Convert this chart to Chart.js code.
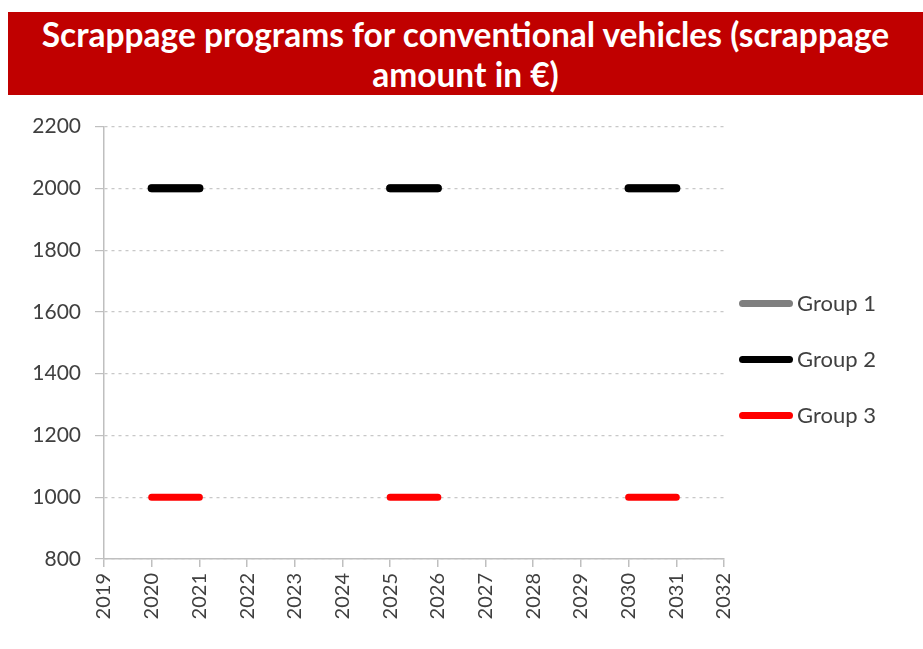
<!DOCTYPE html>
<html>
<head>
<meta charset="utf-8">
<script src="https://cdn.jsdelivr.net/npm/chart.js@4.4.0/dist/chart.umd.min.js"></script>
<style>
  body { margin: 0; background: #fff; width: 923px; height: 649px; overflow: hidden; position: relative; }
  .banner {
    position: absolute; left: 8px; top: 12px; width: 915px; height: 83px;
    background: #c00000; color: #fff; text-align: center;
    font-family: Lato, sans-serif; font-weight: bold; font-size: 33.5px; line-height: 40px;
    padding-top: 2px; box-sizing: border-box; white-space: nowrap;
  }
  .chartbox { position: absolute; left: 0; top: 100px; width: 754px; height: 549px; }
  .legend { position: absolute; left: 739px; top: 0; font-family: Lato, sans-serif; font-size: 22px; color: #404040; }
  .legend div { position: absolute; white-space: nowrap; }
  .legend span.sw { position: absolute; left: 0; width: 54px; height: 7px; border-radius: 3.5px; }
  .legend span.tx { position: absolute; left: 58px; top: -14px; }
</style>
</head>
<body>
<div class="banner">Scrappage programs for conventional vehicles (scrappage<br>amount in €)</div>
<div class="chartbox"><canvas id="scrapChart"></canvas></div>
<div class="legend" id="legend"></div>
<script>
const seriesNames = ['Group 1', 'Group 2', 'Group 3'];
const seriesColors = ['#7f7f7f', '#000000', '#ff0000'];
const programStarts = [2020, 2025, 2030];   // each program lasts one year
const group1 = [2000, 2000, 2000];
const group2 = [2000, 2000, 2000];
const group3 = [1000, 1000, 1000];
const yTicks = [800, 1000, 1200, 1400, 1600, 1800, 2000, 2200];
const xTicks = [2019, 2020, 2021, 2022, 2023, 2024, 2025, 2026, 2027, 2028, 2029, 2030, 2031, 2032];

function segments(values) {
    const pts = [];
    programStarts.forEach(function(s, i) {
        pts.push({ x: s, y: values[i] }, { x: s + 1, y: values[i] }, { x: s + 1, y: null });
    });
    return pts;
}

const allSeries = [group1, group2, group3];
const widths = [8, 8, 7];

// legend
const legendEl = document.getElementById('legend');
const legendY = [303, 359, 415];
seriesNames.forEach(function(name, i) {
    const d = document.createElement('div');
    d.style.top = legendY[i] + 'px';
    d.innerHTML = '<span class="sw" style="background:' + seriesColors[i] + ';top:-3px"></span><span class="tx">' + name + '</span>';
    legendEl.appendChild(d);
});

document.addEventListener('DOMContentLoaded', function() {
    const ctx = document.getElementById('scrapChart');
    new Chart(ctx.getContext('2d'), {
        type: 'line',
        data: {
            datasets: allSeries.map(function(vals, i) {
                return {
                    label: seriesNames[i],
                    data: segments(vals),
                    borderColor: seriesColors[i],
                    borderWidth: widths[i],
                    borderCapStyle: 'round',
                    pointRadius: 0,
                    spanGaps: false,
                    fill: false,
                    order: seriesNames.length - i
                };
            })
        },
        options: {
            responsive: true,
            maintainAspectRatio: false,
            animation: false,
            layout: { padding: { left: 0, top: 25, right: 6, bottom: 0 } },
            plugins: { legend: { display: false }, tooltip: { enabled: false } },
            scales: {
                x: {
                    type: 'linear',
                    min: xTicks[0],
                    max: xTicks[xTicks.length - 1],
                    afterBuildTicks: function(s) { s.ticks = xTicks.map(function(v) { return { value: v }; }); },
                    afterFit: function(s) { s.height = 90; },
                    ticks: {
                        minRotation: 90, maxRotation: 90, padding: 6,
                        color: '#404040',
                        font: { family: 'Lato', size: 20 },
                        callback: function(v) { return String(v); }
                    },
                    grid: { drawOnChartArea: false, drawTicks: true, tickLength: 8, color: '#bfbfbf', lineWidth: 1.5 },
                    border: { color: '#bfbfbf', width: 1.5 }
                },
                y: {
                    min: yTicks[0],
                    max: yTicks[yTicks.length - 1],
                    afterBuildTicks: function(s) { s.ticks = yTicks.map(function(v) { return { value: v }; }); },
                    afterFit: function(s) { s.width = 104; },
                    ticks: {
                        padding: 14,
                        color: '#404040',
                        font: { family: 'Lato', size: 21 },
                        callback: function(v) { return String(v); }
                    },
                    grid: { color: '#c8c8c8', lineWidth: 1.2, tickLength: 9, tickColor: '#bfbfbf', tickBorderDash: [] },
                    border: { color: '#bfbfbf', width: 1.5, dash: [3, 4] }
                }
            }
        }
    });
});
</script>
</body>
</html>
